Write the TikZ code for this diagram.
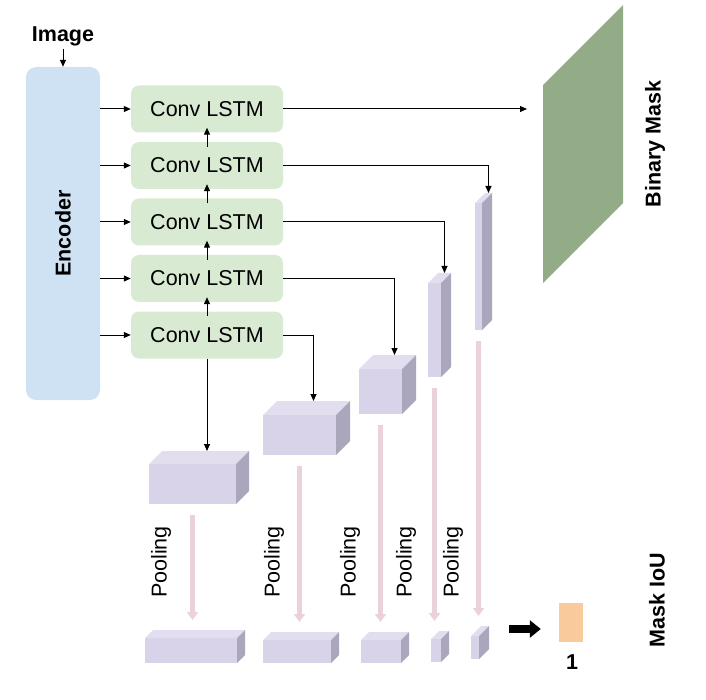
\documentclass[tikz,border=0pt]{standalone}
\usepackage{fontspec}
\setsansfont{Liberation Sans}
\usetikzlibrary{arrows.meta}
\definecolor{encblue}{RGB}{207,226,243}
\definecolor{lstmgreen}{RGB}{217,234,211}
\definecolor{maskgreen}{RGB}{147,171,134}
\definecolor{cubefront}{RGB}{217,211,233}
\definecolor{cubetop}{RGB}{226,222,240}
\definecolor{cubeside}{RGB}{170,166,188}
\definecolor{poolpink}{RGB}{234,209,220}
\definecolor{iouorange}{RGB}{249,203,156}
% name, x, y (front top left), width, height, depth
\newcommand{\Cuboid}[6]{%
	\fill[cubefront] (#2,#3) rectangle ++(#4,#5);
	\fill[cubetop] (#2,#3) -- ++(#6,-#6) -- ++(#4,0) -- ++(-#6,#6) -- cycle;
	\fill[cubeside] ({#2+#4},#3) -- ++(#6,-#6) -- ++(0,#5) -- ++(-#6,#6) -- cycle;
	\coordinate (#1-t) at ({#2+#4/2+#6},{#3-#6});
	\coordinate (#1-b) at ({#2+#4/2},{#3+#5});
}
\begin{document}
\begin{tikzpicture}[x=1pt,y=-1pt,
	txt/.style={font=\sffamily\fontsize{21.5}{24}\selectfont},
	bold/.style={font=\sffamily\bfseries\fontsize{21.5}{24}\selectfont},
	lstm/.style={txt,fill=lstmgreen,rounded corners=8pt,minimum width=152pt,minimum height=47pt},
	encbox/.style={fill=encblue,rounded corners=10pt,minimum width=74pt,minimum height=333pt},
	conn/.style={-{Triangle[length=7pt,width=6pt]},line width=1pt},
	pool/.style={-{Triangle[length=8pt,width=11pt]},line width=5pt,draw=poolpink},
	big/.style={-{Triangle[length=11pt,width=17pt]},line width=8pt}]
	\useasboundingbox (0,0) rectangle (706,700);
	% encoder and conv lstm stack
	\node[bold] (img) at (63,36) {Image};
	\node[encbox] (enc) at (63,233.5) {};
	\node[bold,rotate=90] (enclbl) at (enc) {Encoder};
	\foreach \I/\Y in {1/109,2/165.5,3/222,4/278.5,5/335}
		\node[lstm] (lstm\I) at (207,\Y) {Conv LSTM};
	\draw[conn] (img) -- (enc);
	\foreach \I in {1,...,5}
		\draw[conn] (enc.east |- lstm\I) -- (lstm\I.west);
	\foreach \I/\J in {5/4,4/3,3/2,2/1}
		\draw[conn,shorten <=-5pt,shorten >=-5pt] (lstm\I.north) -- (lstm\J.south);
	% binary mask
	\fill[maskgreen] (543,85) coordinate (maskL) -- (623,5) -- (623,203) -- (543,283) -- cycle;
	\node[bold,rotate=90] (masklbl) at (655,144) {Binary Mask};
	% feature maps
	\Cuboid{A}{149}{464}{87}{40}{13}
	\Cuboid{B}{263}{415}{73}{40}{14}
	\Cuboid{C}{359}{369}{43}{45}{14}
	\Cuboid{D}{428}{283}{13}{94}{10}
	\Cuboid{E}{475}{203}{7}{127}{10}
	% pooled maps
	\Cuboid{A2}{145}{638}{92}{25}{8}
	\Cuboid{B2}{263}{640}{68}{23}{8}
	\Cuboid{C2}{361}{640}{40}{23}{8}
	\Cuboid{D2}{431}{639}{10}{23}{8}
	\Cuboid{E2}{471}{636}{8}{23}{10}
	% outputs of the stack
	\draw[conn,shorten >=16pt] (lstm1.east) -- (lstm1.east -| maskL);
	\draw[conn] (lstm2.east) -| (E-t);
	\draw[conn] (lstm3.east) -| (D-t);
	\draw[conn] (lstm4.east) -| (C-t);
	\draw[conn] (lstm5.east) -| (B-t);
	\draw[conn] (lstm5.south) -- (lstm5.south |- A-t);
	% pooling
	\foreach \N/\X in {A/161,B/274,C/350,D/406,E/453}{
		\draw[pool,shorten <=11pt,shorten >=10pt] (\N-b) -- (\N-b |- \N2-t);
		\node[txt,rotate=90] (pool\N) at (\X,562) {Pooling};
	}
	% mask iou
	\node[fill=iouorange,minimum width=24pt,minimum height=39pt,inner sep=0pt] (iou) at (571,622.5) {};
	\node[bold] (one) at (572,662) {1};
	\node[bold,rotate=90] (ioulbl) at (657,600) {Mask IoU};
	\coordinate (bigs) at (509,629);
	\draw[big,shorten >=18pt] (bigs) -- (bigs -| iou.west);
\end{tikzpicture}
\end{document}
